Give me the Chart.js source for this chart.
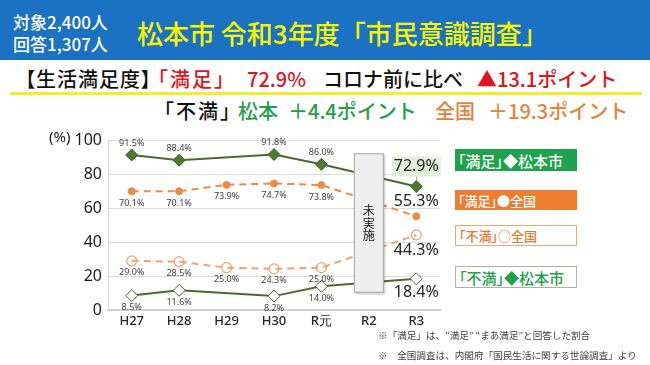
<!DOCTYPE html>
<html><head><meta charset="utf-8">
<script src="https://cdn.jsdelivr.net/npm/chart.js@4.4.0/dist/chart.umd.min.js"></script>
<style>
html,body{margin:0;padding:0;background:#fff;width:650px;height:365px;overflow:hidden;font-family:"Noto Sans CJK JP","Noto Sans",sans-serif;}
.a{position:absolute;white-space:nowrap;line-height:1;}
.p{font-feature-settings:"palt";}
#band{position:absolute;left:0;top:0;width:650px;height:60px;background:#1b72c2;}
#yl{position:absolute;left:10px;top:92px;width:632px;height:3px;background:#f3ee2a;}
.l2{font-size:20px;font-weight:500;transform:translateY(-50%);top:79px;}
.l3{font-size:20px;font-weight:500;transform:translateY(-50%);top:111px;}
.lg{position:absolute;left:455px;width:122px;box-sizing:border-box;display:flex;align-items:center;padding-left:3px;white-space:nowrap;font-feature-settings:"palt";line-height:1;font-weight:500;}
.fn{font-size:9.6px;color:#404040;left:378px;transform:translateY(-50%);}
#cv{position:absolute;left:0;top:125px;}
</style></head>
<body>
<div id="band"></div>
<div class="a" style="left:13px;top:20.5px;transform:translateY(-50%);color:#fff;font-size:17px;font-weight:500;">対象2,400人</div>
<div class="a" style="left:13px;top:42.5px;transform:translateY(-50%);color:#fff;font-size:17px;font-weight:500;">回答1,307人</div>
<div class="a" style="left:137px;top:33px;transform:translateY(-50%);color:#f7f500;font-size:26px;font-weight:500;">松本市 令和3年度「市民意識調査」</div>

<div class="a l2 p" style="left:25px;color:#111;letter-spacing:1px;">【生活満足度】</div>
<div class="a l2" style="left:148px;color:#e1141e;letter-spacing:2px;">「満足」</div>
<div class="a l2" style="left:247px;color:#e1141e;">72.9%</div>
<div class="a l2" style="left:323px;color:#111;">コロナ前に比べ</div>
<div class="a l2" style="left:477px;color:#e1141e;">▲13.1ポイント</div>
<div id="yl"></div>

<div class="a l3" style="left:154px;color:#111;letter-spacing:2px;">「不満」</div>
<div class="a l3" style="left:238px;color:#1fa04a;">松本</div>
<div class="a l3" style="left:288px;color:#1fa04a;">＋4.4ポイント</div>
<div class="a l3" style="left:435px;color:#e8823a;">全国</div>
<div class="a l3" style="left:488px;color:#e8823a;">＋19.3ポイント</div>

<canvas id="cv" width="450" height="210"></canvas>
<div class="a" style="left:49px;top:136px;transform:translateY(-50%);font-family:'Noto Sans',sans-serif;font-size:15px;color:#1a1a1a;">(%)</div>

<div class="lg" style="top:149px;height:22px;background:#1ea24c;color:#fff;font-size:15px;">「満足」◆松本市</div>
<div class="lg" style="top:190px;height:20px;background:#ed7d31;color:#fff;font-size:13px;">「満足」●全国</div>
<div class="lg" style="top:225px;height:21px;background:#fff;border:1px solid #eaa97c;color:#e8782c;font-size:13px;">「不満」○全国</div>
<div class="lg" style="top:266px;height:22px;background:#fff;border:1px solid #a5b89a;color:#1fa04a;font-size:15px;">「不満」◆松本市</div>

<div class="a fn" style="top:336px;">※「満足」は、“満足” “まあ満足”と回答した割合</div>
<div class="a fn" style="top:356px;">※　全国調査は、内閣府「国民生活に関する世論調査」より</div>

<script>
const categories = ['H27','H28','H29','H30','R元','R2','R3'];
const matsumotoSatisfied    = [91.5, 88.4, null, 91.8, 86.0, null, 72.9];
const nationalSatisfied     = [70.1, 70.1, 73.9, 74.7, 73.8, null, 55.3];
const nationalDissatisfied  = [29.0, 28.5, 25.0, 24.3, 25.0, null, 44.3];
const matsumotoDissatisfied = [8.5, 11.6, null, 8.2, 14.0, null, 18.4];
const yTicks = [0, 20, 40, 60, 80, 100];
const notSurveyedCategory = 'R2';
const notSurveyedText = '未実施';

const dark = '#4a6b2e';
const orange = '#ee8a48';
const orangeLight = '#f0a26f';

// label placement per dataset: [normal offset, latest offset]
const labelOffsets = [[-12, -20], [12, -15], [12, 15], [12, 14]];

const labelPlugin = {
  id: 'labels',
  afterDatasetsDraw(chart) {
    const ctx = chart.ctx;
    const x = chart.scales.x, y = chart.scales.y;
    const idx = categories.indexOf(notSurveyedCategory);
    const cx = x.getPixelForValue(idx);
    const bx = cx - 15, bw = 30;
    const by = y.getPixelForValue(92.5), bh = y.getPixelForValue(10.2) - by;
    ctx.save();
    ctx.shadowColor = 'rgba(0,0,0,0.25)';
    ctx.shadowOffsetX = 1.5; ctx.shadowOffsetY = 1.5; ctx.shadowBlur = 2;
    ctx.fillStyle = '#efefef';
    ctx.fillRect(bx, by, bw, bh);
    ctx.shadowColor = 'transparent';
    ctx.strokeStyle = '#a6a6a6'; ctx.lineWidth = 1;
    ctx.strokeRect(bx + 0.5, by + 0.5, bw - 1, bh - 1);
    ctx.fillStyle = '#111';
    ctx.font = '12px "Noto Sans CJK JP"';
    ctx.textAlign = 'center'; ctx.textBaseline = 'middle';
    const chars = Array.from(notSurveyedText);
    const midY = by + bh / 2;
    chars.forEach((c, i) => ctx.fillText(c, cx, midY + (i - (chars.length - 1) / 2) * 12.5));
    ctx.restore();

    chart.data.datasets.forEach((ds, di) => {
      const meta = chart.getDatasetMeta(di);
      meta.data.forEach((pt, i) => {
        const v = ds.data[i];
        if (v === null || v === undefined) return;
        const last = i === ds.data.length - 1;
        const text = v.toFixed(1) + '%';
        const ty = pt.y + labelOffsets[di][last ? 1 : 0];
        ctx.save();
        ctx.textAlign = 'center'; ctx.textBaseline = 'middle';
        if (last) {
          ctx.font = '16px "Noto Sans"';
          if (di === 0) {
            const w = ctx.measureText(text).width;
            ctx.fillStyle = '#e2efda';
            ctx.fillRect(pt.x - w / 2 - 2, ty - 10, w + 4, 20);
            ctx.strokeStyle = '#a0a0a0'; ctx.lineWidth = 1;
            ctx.beginPath(); ctx.moveTo(pt.x + 0.5, ty + 10); ctx.lineTo(pt.x + 0.5, pt.y - 5); ctx.stroke();
          }
          ctx.fillStyle = '#222';
        } else {
          ctx.font = '9px "Noto Sans"';
          ctx.fillStyle = '#404040';
        }
        ctx.fillText(text, pt.x, ty);
        ctx.restore();
      });
    });
  }
};

new Chart(document.getElementById('cv'), {
  type: 'line',
  data: {
    labels: categories,
    datasets: [
      { data: matsumotoSatisfied, borderColor: dark, borderWidth: 2, pointStyle: 'rectRot', pointRadius: 6,
        pointBackgroundColor: '#4e7a32', pointBorderColor: '#3d5f27', pointBorderWidth: 1, spanGaps: true, tension: 0 },
      { data: nationalSatisfied, borderColor: orange, borderWidth: 2, borderDash: [7, 5], pointStyle: 'circle', pointRadius: 3.5,
        pointBackgroundColor: orange, pointBorderColor: orange, pointBorderWidth: 1, spanGaps: true, tension: 0 },
      { data: nationalDissatisfied, borderColor: orangeLight, borderWidth: 2, borderDash: [7, 5], pointStyle: 'circle', pointRadius: 5,
        pointBackgroundColor: 'rgba(255,255,255,0)', pointBorderColor: orangeLight, pointBorderWidth: 1.2, spanGaps: true, tension: 0 },
      { data: matsumotoDissatisfied, borderColor: dark, borderWidth: 2, pointStyle: 'rectRot', pointRadius: 6,
        pointBackgroundColor: '#fff', pointBorderColor: dark, pointBorderWidth: 1, spanGaps: true, tension: 0 }
    ]
  },
  options: {
    responsive: false, animation: false,
    layout: { padding: { top: 10, right: 10, left: 0, bottom: 0 } },
    plugins: { legend: { display: false }, tooltip: { enabled: false } },
    scales: {
      x: {
        offset: true,
        grid: { display: false, drawTicks: false },
        border: { display: true, color: '#cfcfcf', width: 2 },
        ticks: { color: '#262626', font: { family: 'Noto Sans', size: 13, weight: '500' }, padding: 3 },
        afterFit: s => { s.height = 25; }
      },
      y: {
        min: 0, max: 100,
        afterBuildTicks: s => { s.ticks = yTicks.map(v => ({ value: v })); },
        grid: { color: '#dcdcdc', lineWidth: 1, drawTicks: false },
        border: { display: true, color: '#d6d6d6', width: 1 },
        ticks: { color: '#1a1a1a', font: { family: 'Noto Sans', size: 16 }, padding: 6 },
        afterFit: s => { s.width = 108; }
      }
    }
  },
  plugins: [labelPlugin]
});
</script>
</body></html>
